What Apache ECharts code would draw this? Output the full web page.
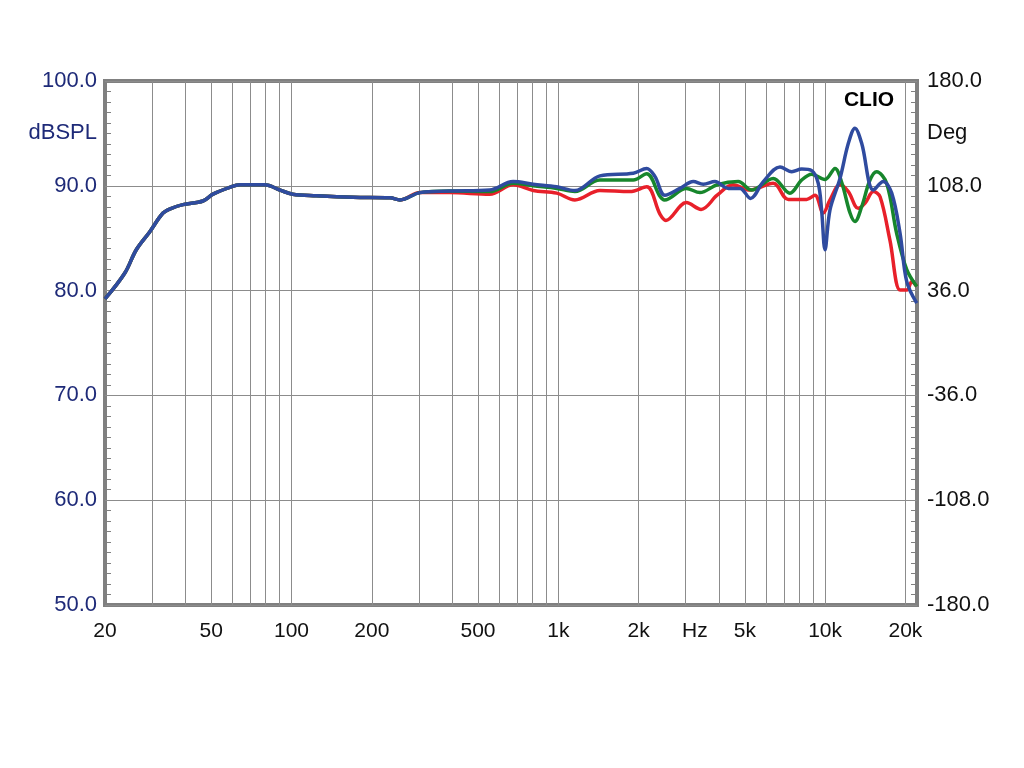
<!DOCTYPE html>
<html>
<head>
<meta charset="utf-8">
<script src="https://cdn.jsdelivr.net/npm/echarts@6/dist/echarts.min.js"></script>
<style>
  html, body { margin: 0; padding: 0; background: #fff; }
  #chart { width: 1024px; height: 768px; }
</style>
</head>
<body>
<div id="chart"></div>
<script>
// common part below ~300 Hz (all three curves overlap)
var commonFreq = [20, 23.7, 26.2, 29.4, 33, 35.5, 39.2, 46.6, 50.8, 58.7, 64, 79.4, 90.4, 101, 124, 170, 234, 255, 303];
var commonLevel = [79.2, 81.65, 83.9, 85.6, 87.4, 87.85, 88.2, 88.55, 89.2, 89.85, 90.1, 90.1, 89.6, 89.2, 89.05, 88.9, 88.85, 88.65, 89.35];

var redFreq = [392, 553, 677, 805, 986, 1154, 1432, 1855, 2143, 2404, 2530, 3020, 3430, 3940, 4510, 5230, 6390, 7280, 8530, 9160, 9840, 10430, 11370, 12220, 13310, 14120, 15170, 16070, 17500, 19100, 20230, 21130, 22050];
var redLevel = [89.35, 89.2, 90.1, 89.55, 89.3, 88.65, 89.55, 89.45, 89.9, 87.3, 86.7, 88.4, 87.75, 89.1, 90.1, 89.6, 90.25, 88.7, 88.7, 89.1, 87.4, 88.65, 90.1, 89.45, 87.85, 88.35, 89.45, 88.95, 84.8, 80.05, 80.05, 80.85, 80.4];

var greenFreq = [392, 553, 677, 805, 986, 1154, 1432, 1910, 2143, 2404, 2500, 3020, 3395, 3940, 4725, 5300, 6390, 7383, 8170, 8910, 9990, 10890, 11560, 12400, 12940, 13710, 14730, 15600, 17000, 18550, 20230, 22050];
var greenLevel = [89.5, 89.45, 90.25, 90.0, 89.75, 89.45, 90.55, 90.55, 91.15, 89.0, 88.65, 89.75, 89.35, 90.1, 90.4, 89.6, 90.7, 89.3, 90.55, 91.1, 90.6, 91.65, 90.25, 87.4, 86.6, 88.0, 90.55, 91.35, 90.25, 85.45, 82.0, 80.4];

var blueFreq = [392, 553, 677, 805, 986, 1154, 1432, 1910, 2143, 2302, 2510, 2858, 3206, 3494, 3866, 4338, 4798, 5250, 5866, 6775, 7500, 8170, 8910, 9420, 9700, 9990, 10430, 11370, 12220, 12940, 13710, 15170, 16520, 17770, 19100, 20230, 22050];
var blueLevel = [89.5, 89.6, 90.4, 90.15, 89.9, 89.55, 90.95, 91.2, 91.65, 90.9, 89.1, 89.75, 90.4, 90.15, 90.4, 89.75, 89.75, 88.8, 90.4, 91.8, 91.35, 91.6, 91.45, 90.25, 87.7, 83.9, 87.7, 90.7, 94.05, 95.5, 94.05, 89.6, 90.4, 89.3, 85.45, 80.85, 78.8];

var gridFreqs = [30, 40, 50, 60, 70, 80, 90, 100, 200, 300, 400, 500, 600, 700, 800, 900, 1000,
  2000, 3000, 4000, 5000, 6000, 7000, 8000, 9000, 10000, 20000];
var labelFreqs = [20, 50, 100, 200, 500, 1000, 2000, 3250, 5000, 10000, 20000];

function pairs(f, v) {
  var out = [];
  for (var i = 0; i < f.length; i++) out.push([f[i], v[i]]);
  return out;
}

var chart = echarts.init(document.getElementById('chart'));

var lineSeries = function (name, color, f, v) {
  return {
    name: name,
    type: 'line',
    showSymbol: false,
    smooth: 0.35,
    silent: true,
    lineStyle: { color: color, width: 3.5 },
    data: pairs(commonFreq.concat(f), commonLevel.concat(v))
  };
};

var font = 'Liberation Sans, Arial, sans-serif';

chart.setOption({
  animation: false,
  backgroundColor: '#fff',
  grid: {
    left: 105, right: 107, top: 81, bottom: 163,
    show: true, borderColor: '#808080', borderWidth: 4
  },
  xAxis: {
    type: 'log',
    logBase: 10,
    min: 20,
    max: 22100,
    axisLine: { show: false },
    axisTick: { show: false, customValues: gridFreqs },
    splitLine: { show: true, lineStyle: { color: '#8c8c8c', width: 1 } },
    axisLabel: {
      customValues: labelFreqs,
      margin: 16,
      color: '#111',
      fontSize: 21,
      fontFamily: font,
      formatter: function (v) {
        if (v > 3000 && v < 4000) return 'Hz';
        if (v >= 1000) return Math.round(v / 1000) + 'k';
        return String(Math.round(v));
      }
    }
  },
  yAxis: [{
    type: 'value',
    min: 50, max: 100, interval: 10,
    axisLine: { show: false },
    axisTick: { show: false, inside: true },
    minorTick: { show: true, splitNumber: 10, length: 6, lineStyle: { color: '#808080' } },
    splitLine: { show: true, lineStyle: { color: '#8c8c8c', width: 1 } },
    axisLabel: {
      margin: 8,
      color: '#1e2a78',
      fontSize: 22,
      fontFamily: font,
      formatter: function (v) { return v.toFixed(1); }
    }
  }, {
    type: 'value',
    position: 'right',
    min: -180, max: 180, interval: 72,
    axisLine: { show: false },
    axisTick: { show: false, inside: true },
    minorTick: { show: true, splitNumber: 10, length: 6, lineStyle: { color: '#808080' } },
    splitLine: { show: false },
    axisLabel: {
      margin: 10,
      color: '#111',
      fontSize: 22,
      fontFamily: font,
      formatter: function (v) { return v.toFixed(1); }
    }
  }],
  graphic: [
    { type: 'text', x: 97, y: 133, style: { text: 'dBSPL', fill: '#1e2a78', font: '22px ' + font, textAlign: 'right', textVerticalAlign: 'middle' } },
    { type: 'text', x: 927, y: 133, style: { text: 'Deg', fill: '#111', font: '22px ' + font, textAlign: 'left', textVerticalAlign: 'middle' } },
    { type: 'text', x: 869, y: 100, style: { text: 'CLIO', fill: '#000', font: 'bold 21px ' + font, textAlign: 'center', textVerticalAlign: 'middle' } }
  ],
  series: [
    lineSeries('red', '#e8202a', redFreq, redLevel),
    lineSeries('green', '#17862c', greenFreq, greenLevel),
    lineSeries('blue', '#2f4b9f', blueFreq, blueLevel)
  ]
});
</script>
</body>
</html>
